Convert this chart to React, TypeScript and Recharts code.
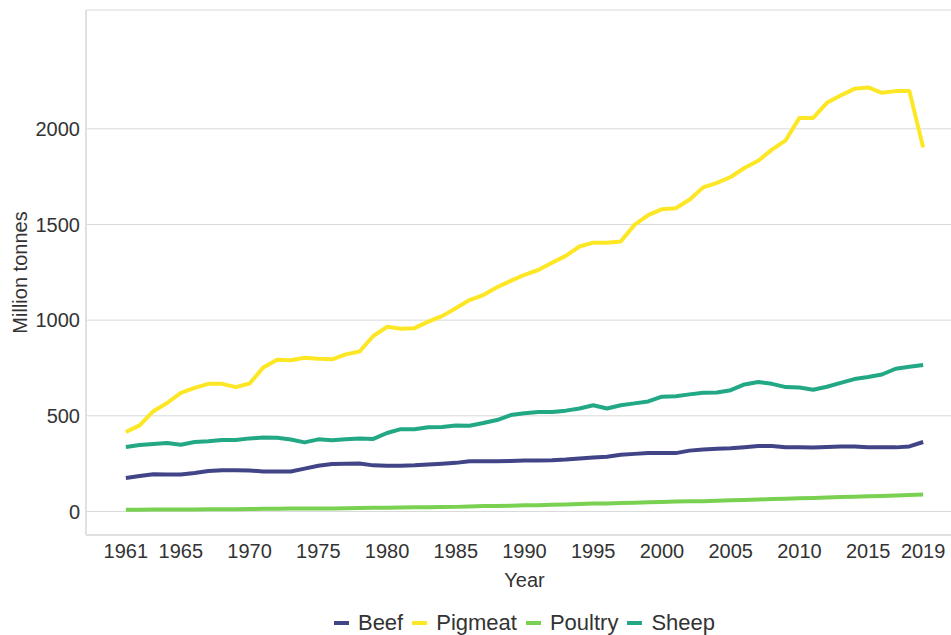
import { LineChart, Line, XAxis, YAxis, CartesianGrid, Legend } from 'recharts';

const years = Array.from({ length: 59 }, (_, i) => 1961 + i);

const beef = [
  175, 185, 195, 193, 193, 201, 211, 216, 216, 214,
  209, 209, 209, 224, 239, 248, 250, 251, 241, 239,
  239, 241, 245, 250, 254, 262, 262, 263, 264, 266,
  267, 268, 271, 277, 282, 286, 296, 301, 306, 306,
  305, 318, 324, 328, 331, 336, 342, 342, 336, 335,
  334, 337, 340, 340, 336, 335, 335, 340, 363,
];

const pigmeat = [
  415, 450, 524, 567, 620, 646, 667, 667, 650, 669,
  753, 793, 790, 803, 798, 795, 821, 836, 917, 965,
  955, 958, 992, 1021, 1062, 1105, 1131, 1172, 1205, 1237,
  1262, 1300, 1336, 1385, 1405, 1405, 1411, 1498, 1549, 1580,
  1585, 1629, 1694, 1717, 1748, 1795, 1833, 1891, 1940, 2057,
  2057, 2136, 2174, 2209, 2216, 2188, 2197, 2197, 1903,
];

const poultry = [
  9, 9, 10, 10, 10, 10, 11, 11, 12, 13,
  14, 14, 15, 15, 15, 16, 17, 18, 19, 20,
  21, 22, 22, 23, 24, 26, 28, 29, 30, 32,
  33, 35, 37, 39, 41, 42, 44, 46, 48, 50,
  52, 53, 54, 56, 58, 60, 62, 65, 67, 69,
  71, 73, 75, 77, 79, 81, 84, 86, 89,
];

const sheep = [
  337, 347, 353, 358, 349, 363, 367, 374, 374, 382,
  386, 385, 376, 361, 377, 372, 377, 382, 379, 410,
  430, 430, 440, 442, 449, 448, 462, 478, 504, 513,
  520, 520, 527, 538, 555, 538, 555, 565, 575, 600,
  602, 612, 620, 622, 634, 664, 677, 667, 650, 648,
  636, 652, 672, 692, 703, 716, 746, 756, 765,
];

const xTicks = [1961, 1965, 1970, 1975, 1980, 1985, 1990, 1995, 2000, 2005, 2010, 2015, 2019];
const yTicks = [0, 500, 1000, 1500, 2000];

const series = [
  { key: 'beef', name: 'Beef', color: '#414487' },
  { key: 'pigmeat', name: 'Pigmeat', color: '#fde725' },
  { key: 'poultry', name: 'Poultry', color: '#7ad151' },
  { key: 'sheep', name: 'Sheep', color: '#22a884' },
];

const data = years.map((year, i) => ({
  year,
  beef: beef[i],
  pigmeat: pigmeat[i],
  poultry: poultry[i],
  sheep: sheep[i],
}));

const FONT = '"Liberation Sans", Arial, sans-serif';
const TEXT = '#333';

function LegendContent() {
  return (
    <div
      style={{
        display: 'flex',
        justifyContent: 'center',
        height: 40,
        paddingTop: 16,
        boxSizing: 'border-box',
        fontFamily: FONT,
        fontSize: 22,
        lineHeight: '22px',
        color: TEXT,
      }}
    >
      {series.map((s, i) => (
        <div
          key={s.key}
          style={{ display: 'flex', alignItems: 'center', marginRight: i < series.length - 1 ? 9 : 0 }}
        >
          <span
            style={{ display: 'inline-block', width: 15, height: 4, background: s.color, marginRight: 9 }}
          />
          <span>{s.name}</span>
        </div>
      ))}
    </div>
  );
}

export default function App() {
  return (
    <div
      style={{
        position: 'absolute',
        left: 0,
        top: 0,
        width: 951,
        height: 635,
        overflow: 'hidden',
        background: '#fff',
      }}
    >
      <LineChart width={965} height={635} data={data} margin={{ top: 10, right: 2, bottom: 0, left: 0 }}>
        <CartesianGrid stroke="#d9d9d9" vertical={false} />
        <XAxis
          dataKey="year"
          type="number"
          domain={[1958.1, 2021.9]}
          ticks={xTicks}
          interval={0}
          height={60}
          tickLine={false}
          tickMargin={3}
          axisLine={{ stroke: '#e0e0e0', strokeWidth: 2 }}
          tick={{ fill: TEXT, fontSize: 20, fontFamily: FONT }}
          label={{
            value: 'Year',
            position: 'insideBottom',
            offset: 8,
            fill: TEXT,
            fontSize: 20,
            fontFamily: FONT,
          }}
        />
        <YAxis
          type="number"
          domain={[-123, 2621]}
          ticks={yTicks}
          interval={0}
          width={86}
          tickLine={false}
          tickMargin={0}
          axisLine={{ stroke: '#e0e0e0', strokeWidth: 2 }}
          tick={{ fill: TEXT, fontSize: 20, fontFamily: FONT }}
          label={{
            value: 'Million tonnes',
            angle: -90,
            position: 'center',
            dx: -23,
            fill: TEXT,
            fontSize: 20,
            fontFamily: FONT,
          }}
        />
        <Legend
          verticalAlign="bottom"
          height={40}
          content={<LegendContent />}
          wrapperStyle={{ left: 86, width: 877 }}
        />
        {series.map((s) => (
          <Line
            key={s.key}
            type="linear"
            dataKey={s.key}
            name={s.name}
            stroke={s.color}
            strokeWidth={4}
            dot={false}
            strokeLinejoin="round"
            isAnimationActive={false}
          />
        ))}
      </LineChart>
    </div>
  );
}
